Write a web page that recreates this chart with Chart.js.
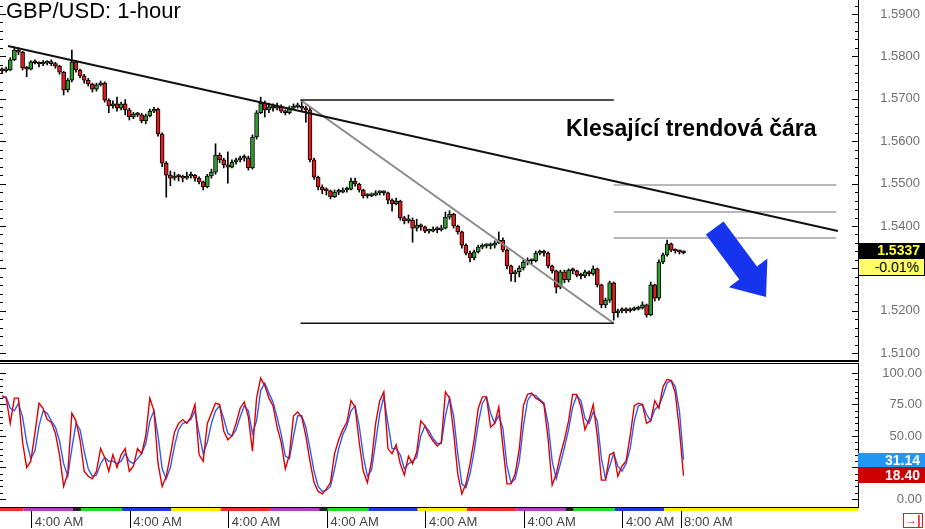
<!DOCTYPE html>
<html>
<head>
<meta charset="utf-8">
<script src="https://cdn.jsdelivr.net/npm/chart.js@4.4.1/dist/chart.umd.min.js"></script>
<style>
  html, body { margin: 0; padding: 0; background: #fff; }
  #wrap { position: relative; width: 925px; height: 529px; overflow: hidden; font-family: 'Liberation Sans', Arial, sans-serif; }
  canvas { position: absolute; left: 0; }
  #cP { top: 0; }
  #cS { top: 362px; }
  #title { position: absolute; left: 6px; top: 0; font-size: 22px; line-height: 22px; color: #000; white-space: nowrap; }
  #note { position: absolute; left: 566px; top: 117px; font-size: 23px; line-height: 23px; font-weight: bold; color: #000; white-space: nowrap; }
  .tag { position: absolute; left: 858px; width: 62px; padding-right: 5px; text-align: right; font-size: 14px; white-space: nowrap; }
  #lastPx { top: 243px; height: 15px; line-height: 15px; background: #000; color: #ffff3a; font-weight: bold; }
  #chg { top: 258px; height: 16px; line-height: 16px; width: 60px; background: #ffff66; color: #000; border: 1px solid #000; }
  #dVal { top: 453px; height: 14px; line-height: 14px; background: #2196f3; color: #fff; font-weight: bold; }
  #kVal { top: 467px; height: 16px; line-height: 16px; background: #cc0000; color: #fff; font-weight: bold; }
  #jump { position: absolute; left: 903px; top: 513px; width: 18px; height: 13px; line-height: 13px; border: 1px solid #e02020; color: #e02020; font-size: 12px; font-weight: bold; text-align: center; }
</style>
</head>
<body>
<div id="wrap">
  <canvas id="cP" width="920" height="362"></canvas>
  <canvas id="cS" width="922" height="167"></canvas>
  <div id="title">GBP/USD: 1-hour</div>
  <div id="note">Klesající trendová čára</div>
  <div class="tag" id="lastPx">1.5337</div>
  <div class="tag" id="chg">-0.01%</div>
  <div class="tag" id="dVal">31.14</div>
  <div class="tag" id="kVal">18.40</div>
  <div id="jump">→|</div>
</div>
<script>
// GBP/USD hourly candles (one entry per hour)
const opens = [
  1.5770,1.5766,1.5768,1.5792,1.5815,1.5810,1.5773,1.5770,1.5787,1.5785,
  1.5782,1.5784,1.5786,1.5783,1.5777,1.5763,1.5721,1.5744,1.5787,1.5768,
  1.5754,1.5744,1.5735,1.5723,1.5733,1.5737,1.5697,1.5683,1.5688,1.5678,
  1.5688,1.5674,1.5657,1.5664,1.5662,1.5648,1.5660,1.5671,1.5676,1.5617,
  1.5548,1.5520,1.5513,1.5518,1.5516,1.5513,1.5518,1.5520,1.5513,1.5504,
  1.5492,1.5518,1.5527,1.5567,1.5556,1.5544,1.5539,1.5551,1.5556,1.5560,
  1.5561,1.5537,1.5610,1.5667,1.5690,1.5674,1.5681,1.5678,1.5683,1.5671,
  1.5667,1.5678,1.5681,1.5683,1.5678,1.5674,1.5556,1.5515,1.5492,1.5485,
  1.5483,1.5469,1.5480,1.5480,1.5485,1.5487,1.5506,1.5499,1.5485,1.5471,
  1.5471,1.5473,1.5478,1.5478,1.5478,1.5461,1.5452,1.5459,1.5419,1.5412,
  1.5414,1.5395,1.5402,1.5398,1.5388,1.5388,1.5393,1.5391,1.5395,1.5421,
  1.5428,1.5400,1.5386,1.5355,1.5336,1.5325,1.5339,1.5350,1.5353,1.5353,
  1.5355,1.5360,1.5367,1.5343,1.5306,1.5287,1.5292,1.5301,1.5315,1.5318,
  1.5318,1.5336,1.5339,1.5336,1.5306,1.5294,1.5256,1.5292,1.5273,1.5296,
  1.5294,1.5284,1.5282,1.5292,1.5287,1.5299,1.5261,1.5214,1.5225,1.5266,
  1.5195,1.5200,1.5202,1.5200,1.5202,1.5204,1.5207,1.5214,1.5190,1.5261,
  1.5230,1.5315,1.5332,1.5358,1.5343,1.5341,1.5339];
const highs = [
  1.5773,1.5775,1.5797,1.5822,1.5820,1.5812,1.5776,1.5790,1.5792,1.5787,
  1.5790,1.5790,1.5792,1.5786,1.5779,1.5765,1.5748,1.5815,1.5790,1.5770,
  1.5758,1.5748,1.5737,1.5737,1.5742,1.5740,1.5700,1.5695,1.5704,1.5692,
  1.5698,1.5678,1.5668,1.5668,1.5666,1.5664,1.5676,1.5680,1.5678,1.5620,
  1.5552,1.5530,1.5527,1.5522,1.5520,1.5527,1.5527,1.5522,1.5516,1.5506,
  1.5522,1.5534,1.5594,1.5572,1.5560,1.5575,1.5556,1.5560,1.5565,1.5568,
  1.5565,1.5615,1.5672,1.5704,1.5695,1.5690,1.5688,1.5690,1.5686,1.5674,
  1.5683,1.5688,1.5690,1.5695,1.5683,1.5680,1.5560,1.5518,1.5497,1.5490,
  1.5485,1.5485,1.5487,1.5490,1.5492,1.5513,1.5513,1.5501,1.5487,1.5476,
  1.5478,1.5483,1.5483,1.5483,1.5480,1.5464,1.5466,1.5461,1.5423,1.5426,
  1.5419,1.5416,1.5405,1.5400,1.5393,1.5398,1.5398,1.5402,1.5433,1.5436,
  1.5430,1.5402,1.5388,1.5358,1.5341,1.5343,1.5355,1.5358,1.5358,1.5360,
  1.5365,1.5386,1.5372,1.5346,1.5308,1.5296,1.5306,1.5320,1.5325,1.5322,
  1.5341,1.5343,1.5343,1.5339,1.5308,1.5296,1.5296,1.5296,1.5299,1.5301,
  1.5296,1.5289,1.5296,1.5294,1.5306,1.5301,1.5263,1.5230,1.5270,1.5268,
  1.5204,1.5207,1.5207,1.5207,1.5209,1.5211,1.5221,1.5216,1.5268,1.5263,
  1.5320,1.5336,1.5367,1.5360,1.5346,1.5343,1.5341];
const lows = [
  1.5761,1.5763,1.5766,1.5790,1.5804,1.5768,1.5752,1.5768,1.5782,1.5775,
  1.5778,1.5780,1.5778,1.5772,1.5758,1.5709,1.5716,1.5740,1.5763,1.5749,
  1.5737,1.5730,1.5716,1.5718,1.5730,1.5692,1.5667,1.5678,1.5671,1.5674,
  1.5662,1.5650,1.5653,1.5658,1.5643,1.5641,1.5657,1.5667,1.5612,1.5540,
  1.5468,1.5495,1.5508,1.5506,1.5504,1.5510,1.5513,1.5506,1.5499,1.5485,
  1.5490,1.5513,1.5522,1.5549,1.5537,1.5501,1.5537,1.5546,1.5551,1.5553,
  1.5532,1.5534,1.5605,1.5665,1.5657,1.5667,1.5671,1.5674,1.5667,1.5662,
  1.5664,1.5676,1.5678,1.5671,1.5645,1.5551,1.5510,1.5485,1.5476,1.5473,
  1.5464,1.5467,1.5474,1.5478,1.5480,1.5485,1.5494,1.5480,1.5466,1.5466,
  1.5469,1.5471,1.5473,1.5473,1.5452,1.5435,1.5450,1.5414,1.5405,1.5407,
  1.5362,1.5388,1.5390,1.5384,1.5383,1.5386,1.5384,1.5388,1.5393,1.5416,
  1.5395,1.5381,1.5348,1.5332,1.5315,1.5320,1.5336,1.5346,1.5348,1.5346,
  1.5348,1.5358,1.5339,1.5299,1.5270,1.5268,1.5280,1.5296,1.5308,1.5311,
  1.5315,1.5332,1.5329,1.5301,1.5289,1.5242,1.5252,1.5266,1.5268,1.5287,
  1.5280,1.5275,1.5278,1.5282,1.5284,1.5256,1.5207,1.5207,1.5220,1.5178,
  1.5185,1.5195,1.5195,1.5197,1.5200,1.5202,1.5204,1.5185,1.5188,1.5223,
  1.5225,1.5311,1.5329,1.5339,1.5336,1.5334,1.5334];
const closes = [
  1.5766,1.5768,1.5792,1.5815,1.5810,1.5773,1.5770,1.5787,1.5785,1.5782,
  1.5784,1.5786,1.5783,1.5777,1.5763,1.5721,1.5744,1.5787,1.5768,1.5754,
  1.5744,1.5735,1.5723,1.5733,1.5737,1.5697,1.5683,1.5688,1.5678,1.5688,
  1.5674,1.5657,1.5664,1.5662,1.5648,1.5660,1.5671,1.5676,1.5617,1.5548,
  1.5520,1.5513,1.5518,1.5516,1.5513,1.5518,1.5520,1.5513,1.5504,1.5492,
  1.5518,1.5527,1.5567,1.5556,1.5544,1.5539,1.5551,1.5556,1.5560,1.5561,
  1.5537,1.5610,1.5667,1.5690,1.5674,1.5681,1.5678,1.5683,1.5671,1.5667,
  1.5678,1.5681,1.5683,1.5678,1.5674,1.5556,1.5515,1.5492,1.5485,1.5483,
  1.5469,1.5480,1.5480,1.5485,1.5487,1.5506,1.5499,1.5485,1.5471,1.5471,
  1.5473,1.5478,1.5478,1.5478,1.5461,1.5452,1.5459,1.5419,1.5412,1.5414,
  1.5395,1.5402,1.5398,1.5388,1.5388,1.5393,1.5391,1.5395,1.5421,1.5428,
  1.5400,1.5386,1.5355,1.5336,1.5325,1.5339,1.5350,1.5353,1.5353,1.5355,
  1.5360,1.5367,1.5343,1.5306,1.5287,1.5292,1.5301,1.5315,1.5318,1.5318,
  1.5336,1.5339,1.5336,1.5306,1.5294,1.5256,1.5292,1.5273,1.5296,1.5294,
  1.5284,1.5282,1.5292,1.5287,1.5299,1.5261,1.5214,1.5225,1.5266,1.5195,
  1.5200,1.5202,1.5200,1.5202,1.5204,1.5207,1.5214,1.5190,1.5261,1.5230,
  1.5315,1.5332,1.5358,1.5343,1.5341,1.5339,1.5337];

// stochastic oscillator, same hours: %K (red) and %D (blue)
const stochK = [
  82,80,60,80,80,45,25,30,52,76, 72,63,61,52,35,10,20,68,62,47,
  22,18,16,22,40,33,22,35,25,35, 40,22,26,40,36,50,80,70,28,10,
  18,35,53,60,63,60,65,75,35,30, 60,68,76,75,54,47,50,60,72,77,
  65,38,80,96,90,80,74,57,45,24, 35,66,69,65,50,30,13,6,4,8,
  13,36,47,55,61,78,73,45,22,13, 30,60,78,85,40,36,43,28,19,34,
  28,37,62,58,51,46,42,45,85,80, 53,20,4,12,28,47,72,81,81,57,
  60,73,42,12,12,20,40,74,83,84, 80,78,75,48,11,20,35,47,62,83,
  83,73,55,63,75,50,15,15,35,37, 18,26,30,50,74,76,75,60,62,78,
  72,89,95,94,84,55,18.4];
const stochD = [
  80,81,72,70,76,65,45,32,38,58, 70,68,62,57,46,28,18,40,60,55,
  38,24,18,19,28,33,30,30,28,30, 36,30,28,32,36,44,62,70,50,24,
  16,25,42,55,60,61,63,70,52,36, 45,60,70,74,64,52,50,55,65,74,
  70,52,62,86,92,84,77,65,51,34, 32,50,66,66,57,40,22,10,6,7,
  10,24,40,51,58,70,74,58,34,18, 23,45,68,81,60,40,40,35,24,28,
  30,33,50,58,54,48,44,44,66,80, 66,36,12,9,20,38,60,76,81,68,
  60,66,56,26,13,16,30,58,78,83, 82,79,76,60,30,16,28,41,55,73,
  82,78,64,60,69,62,32,16,26,36, 26,22,28,40,62,74,75,67,62,71,
  74,82,92,94,89,70,31.14];

const priceTicks = [1.51, 1.52, 1.53, 1.54, 1.55, 1.56, 1.57, 1.58, 1.59];
const stochTicks = [0, 25, 50, 75, 100];
// hour index of each time label
const timeTicks = [7.25, 31.25, 55.25, 79.25, 103.25, 127.25, 151.25, 165.4];
const timeLabels = ['4:00 AM', '4:00 AM', '4:00 AM', '4:00 AM', '4:00 AM', '4:00 AM', '4:00 AM', '8:00 AM'];

// hand drawn lines on the price panel, as [hour index, price]
const trendLine = [[1.45, 1.58245], [203.6, 1.53882]];
const rangeHigh = [[72.7, 1.56972], [149.0, 1.56972]];
const rangeLow = [[72.7, 1.51705], [149.0, 1.51705]];
const swingLine = [[72.7, 1.56972], [149.0, 1.51705]];
const fibLevels = [1.54967, 1.54330, 1.53717];
const fibSpan = [149.0, 203.2];
const arrowFrom = [173.6, 1.53953];
const arrowTo = [186.1, 1.52325];

// session colour strip under the oscillator
const sessionEdges = [-0.5, 5.25, 17.25, 19.25, 29.25, 41.25, 53.25, 65.25, 77.25, 79.25, 89.25,
                      101.25, 113.25, 125.25, 137.25, 139.25, 149.25, 161.25, 208.5];
const sessionColors = ['#ff2a2a', '#b23fc4', '#222222', '#22dd22', '#2238dd', '#ffee00',
                       '#ff2a2a', '#b23fc4', '#222222', '#22dd22', '#2238dd', '#ffee00',
                       '#ff2a2a', '#b23fc4', '#222222', '#22dd22', '#2238dd', '#ffee00'];

const FONT = "'Liberation Sans', Arial, sans-serif";
Chart.defaults.font.family = FONT;

const X_MIN = -0.5, X_MAX = 208.5;
const PRICE_MIN = 1.507924, PRICE_MAX = 1.593302;
const STOCH_MIN = -6.35, STOCH_MAX = 107.1;
const PLOT_RIGHT = 858;

const idx = closes.map((_, i) => i);
const bodies = idx.map(i => ({x: i, y: [opens[i], closes[i]]}));
const wicks = idx.map(i => ({x: i, y: [lows[i], highs[i]]}));
const bodyColors = idx.map(i => closes[i] >= opens[i] ? '#2f9e2f' : '#e01b1b');
const pts = arr => arr.map(([x, y]) => ({x, y}));

function lineDs(data, color, width) {
  return {type: 'line', data, borderColor: color, borderWidth: width, pointRadius: 0,
          fill: false, tension: 0, order: 0};
}

// scales should not push the plot area around; right axis fills up to the canvas edge
function fitY(s) { s.width = s.chart.width - PLOT_RIGHT; s.paddingTop = 0; s.paddingBottom = 0; }
function fitX(s) { s.height = 22; s.paddingLeft = 0; s.paddingRight = 0; }

// little inward ticks on both edges plus the panel frame lines
const edgeTicks = {
  id: 'edgeTicks',
  afterDraw(chart, args, o) {
    const {ctx, chartArea: a} = chart;
    const y = chart.scales.y;
    ctx.save();
    ctx.strokeStyle = '#000';
    ctx.lineWidth = 1;
    ctx.beginPath();
    for (let k = 0; k <= o.count; k++) {
      const v = o.from + k * o.step;
      const py = Math.round(y.getPixelForValue(v)) + 0.5;
      if (py < a.top || py > a.bottom) continue;
      const major = Math.abs(v / o.major - Math.round(v / o.major)) < 1e-6;
      const len = major ? 6 : 3;
      ctx.moveTo(a.right - len, py); ctx.lineTo(a.right, py);
      ctx.moveTo(a.left, py); ctx.lineTo(a.left + len, py);
    }
    ctx.stroke();
    if (o.bottomLine) {
      ctx.lineWidth = 2;
      ctx.beginPath(); ctx.moveTo(a.left, a.bottom - 1); ctx.lineTo(a.right, a.bottom - 1); ctx.stroke();
    }
    if (o.topLine) {
      ctx.lineWidth = 1;
      ctx.beginPath(); ctx.moveTo(a.left, a.top - 0.5); ctx.lineTo(a.right + 1, a.top - 0.5); ctx.stroke();
    }
    ctx.restore();
  }
};

const arrowPlugin = {
  id: 'arrow',
  afterDatasetsDraw(chart) {
    const {ctx, scales: {x, y}} = chart;
    const x0 = x.getPixelForValue(arrowFrom[0]), y0 = y.getPixelForValue(arrowFrom[1]);
    const x1 = x.getPixelForValue(arrowTo[0]), y1 = y.getPixelForValue(arrowTo[1]);
    const len = Math.hypot(x1 - x0, y1 - y0);
    const ux = (x1 - x0) / len, uy = (y1 - y0) / len, nx = -uy, ny = ux;
    const shaft = 11, head = 24, headLen = 30;
    const bx = x1 - ux * headLen, by = y1 - uy * headLen;
    ctx.save();
    ctx.fillStyle = '#1634ee';
    ctx.beginPath();
    ctx.moveTo(x0 + nx * shaft, y0 + ny * shaft);
    ctx.lineTo(bx + nx * shaft, by + ny * shaft);
    ctx.lineTo(bx + nx * head, by + ny * head);
    ctx.lineTo(x1, y1);
    ctx.lineTo(bx - nx * head, by - ny * head);
    ctx.lineTo(bx - nx * shaft, by - ny * shaft);
    ctx.lineTo(x0 - nx * shaft, y0 - ny * shaft);
    ctx.closePath();
    ctx.fill();
    ctx.restore();
  }
};

const sessionStrip = {
  id: 'sessionStrip',
  afterDraw(chart) {
    const {ctx, chartArea: a, scales: {x}} = chart;
    ctx.save();
    for (let i = 0; i < sessionColors.length; i++) {
      const px0 = x.getPixelForValue(sessionEdges[i]);
      const px1 = x.getPixelForValue(sessionEdges[i + 1]);
      ctx.fillStyle = sessionColors[i];
      ctx.fillRect(px0, a.bottom + 1, px1 - px0, 3);
    }
    ctx.restore();
  }
};

const axisTickFont = {family: FONT, size: 13};

// ---------- price panel ----------
new Chart(document.getElementById('cP'), {
  type: 'bar',
  data: {
    datasets: [
      lineDs(pts(trendLine), '#111', 2),
      lineDs(pts(rangeHigh), '#111', 1.5),
      lineDs(pts(rangeLow), '#111', 1.5),
      lineDs(pts(swingLine), '#8a8a8a', 2),
      ...fibLevels.map(v => lineDs([{x: fibSpan[0], y: v}, {x: fibSpan[1], y: v}], '#a0a0a0', 1.5)),
      {label: 'body', data: bodies, backgroundColor: bodyColors, borderColor: '#000', borderWidth: 1,
       borderSkipped: false, barThickness: 4, minBarLength: 2, grouped: false, order: 1},
      {label: 'wick', data: wicks, backgroundColor: '#000', borderWidth: 0,
       barThickness: 1, grouped: false, order: 2}
    ]
  },
  options: {
    responsive: false,
    animation: false,
    events: [],
    layout: {padding: 0, autoPadding: false},
    plugins: {
      legend: {display: false},
      tooltip: {enabled: false},
      edgeTicks: {from: 1.508, step: 0.002, count: 42, major: 0.01, bottomLine: true}
    },
    scales: {
      x: {type: 'linear', min: X_MIN, max: X_MAX, offset: false, display: false},
      y: {
        position: 'right', min: PRICE_MIN, max: PRICE_MAX,
        afterBuildTicks: s => { s.ticks = priceTicks.map(v => ({value: v})); },
        afterFit: fitY,
        ticks: {autoSkip: false, crossAlign: 'far', padding: 8, color: '#707070', font: axisTickFont,
                callback: v => v.toFixed(4)},
        grid: {display: true, drawOnChartArea: false, drawTicks: false},
        border: {display: true, color: '#000', width: 1}
      }
    }
  },
  plugins: [edgeTicks, arrowPlugin]
});

// ---------- stochastic panel ----------
new Chart(document.getElementById('cS'), {
  type: 'line',
  data: {
    datasets: [
      {data: stochK.map((v, i) => ({x: i, y: v})), borderColor: '#e00000', borderWidth: 1.4,
       pointRadius: 0, tension: 0, fill: false},
      {data: stochD.map((v, i) => ({x: i, y: v})), borderColor: '#2a5cff', borderWidth: 1.4,
       pointRadius: 0, tension: 0, fill: false}
    ]
  },
  options: {
    responsive: false,
    animation: false,
    events: [],
    layout: {padding: {top: 2}, autoPadding: false},
    plugins: {
      legend: {display: false},
      tooltip: {enabled: false},
      edgeTicks: {from: 0, step: 5, count: 20, major: 25, topLine: true}
    },
    scales: {
      x: {
        type: 'linear', min: X_MIN, max: X_MAX, offset: false,
        afterBuildTicks: s => { s.ticks = timeTicks.map(v => ({value: v})); },
        afterFit: fitX,
        ticks: {autoSkip: false, maxRotation: 0, align: 'start', labelOffset: 3, padding: -13,
                color: '#444', font: axisTickFont, callback: (v, i) => timeLabels[i]},
        grid: {display: true, drawOnChartArea: false, drawTicks: true, tickLength: 21, color: '#000'},
        border: {display: true, color: '#000', width: 1}
      },
      y: {
        position: 'right', min: STOCH_MIN, max: STOCH_MAX,
        afterBuildTicks: s => { s.ticks = stochTicks.map(v => ({value: v})); },
        afterFit: fitY,
        ticks: {autoSkip: false, crossAlign: 'far', padding: 11, color: '#707070', font: axisTickFont,
                callback: v => v.toFixed(2)},
        grid: {display: true, drawOnChartArea: false, drawTicks: false},
        border: {display: true, color: '#000', width: 1}
      }
    }
  },
  plugins: [edgeTicks, sessionStrip]
});
</script>
</body>
</html>
